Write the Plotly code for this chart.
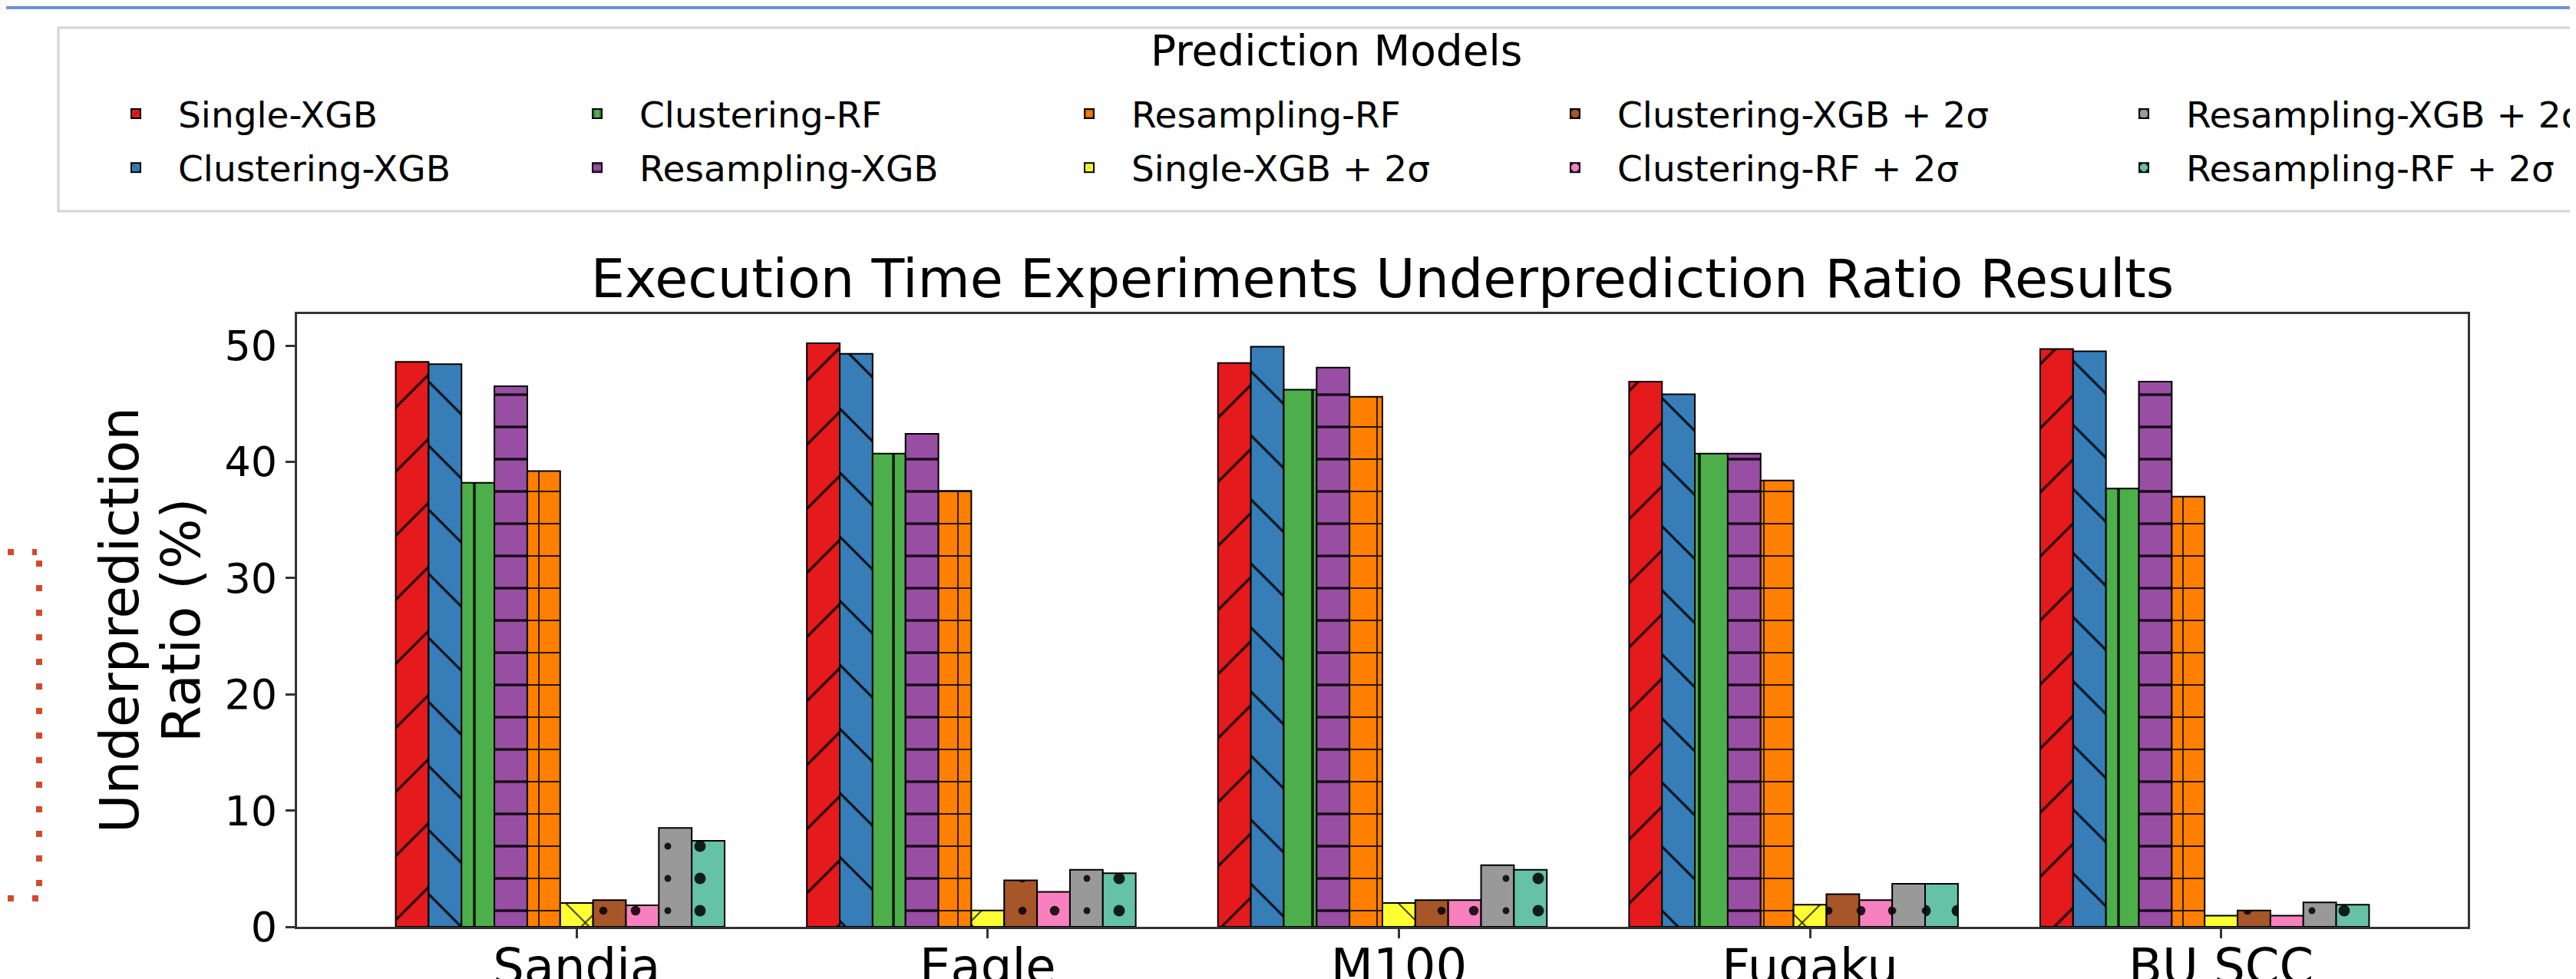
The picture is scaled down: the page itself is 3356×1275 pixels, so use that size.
import plotly.graph_objects as go

# ---------------- data ----------------
categories = ["Sandia", "Eagle", "M100", "Fugaku", "BU SCC"]
models = [
    "Single-XGB", "Clustering-XGB", "Clustering-RF", "Resampling-XGB", "Resampling-RF",
    "Single-XGB + 2σ", "Clustering-XGB + 2σ", "Clustering-RF + 2σ",
    "Resampling-XGB + 2σ", "Resampling-RF + 2σ",
]
single_xgb = [48.6, 50.2, 48.5, 46.9, 49.7]
clustering_xgb = [48.4, 49.3, 49.9, 45.8, 49.5]
clustering_rf = [38.2, 40.7, 46.2, 40.7, 37.7]
resampling_xgb = [46.5, 42.4, 48.1, 40.7, 46.9]
resampling_rf = [39.2, 37.5, 45.6, 38.4, 37.0]
single_xgb_2s = [2.05, 1.4, 2.05, 1.9, 0.95]
clustering_xgb_2s = [2.3, 4.0, 2.3, 2.8, 1.4]
clustering_rf_2s = [1.85, 3.0, 2.3, 2.3, 0.95]
resampling_xgb_2s = [8.5, 4.9, 5.3, 3.7, 2.1]
resampling_rf_2s = [7.4, 4.6, 4.9, 3.7, 1.9]
series = [single_xgb, clustering_xgb, clustering_rf, resampling_xgb, resampling_rf,
          single_xgb_2s, clustering_xgb_2s, clustering_rf_2s, resampling_xgb_2s, resampling_rf_2s]
y_ticks = [0, 10, 20, 30, 40, 50]
y_label_lines = ["Underprediction", "Ratio (%)"]

# ---------------- style ----------------
colors = ["#e41a1c", "#377eb8", "#4daf4a", "#984ea3", "#ff7f00",
          "#ffff33", "#a65628", "#f781bf", "#999999", "#66c2a5"]
patterns = [
    dict(shape="/", size=59, solidity=0.055),
    dict(shape="\\", size=59, solidity=0.055),
    dict(shape="|", size=42, solidity=0.085),
    dict(shape="-", size=42, solidity=0.085),
    dict(shape="+", size=42, solidity=0.085),
    dict(shape="x", size=59, solidity=0.06),
    dict(shape=".", size=42, solidity=0.05),
    dict(shape=".", size=42, solidity=0.07),
    dict(shape=".", size=42, solidity=0.035),
    dict(shape=".", size=42, solidity=0.1),
]

W, H = 3356, 1275
L, R, T, B = 379, 3207, 401, 1199
FONT = "DejaVu Sans"


def px_x(px):
    return (px - L) / (R - L)


def px_y(py):
    return (B - py) / (B - T)


bar_w = 0.08
n = len(models)
fig = go.Figure()
for i, (name, vals) in enumerate(zip(models, series)):
    col = i // 2
    legend_id = "legend" if col == 0 else f"legend{col + 1}"
    fig.add_trace(go.Bar(
        x=categories, y=vals, name=name,
        width=bar_w, offset=(i - n / 2 - 0.5) * bar_w,
        marker=dict(
            color=colors[i],
            line=dict(color="#000000", width=2),
            pattern=dict(fgcolor="#000000", fgopacity=0.85, **patterns[i]),
        ),
        legend=legend_id, legendgroup=name,
    ))

x_lo = -(n / 2 + 0.5) * bar_w
x_hi = len(categories) - 1 + (n / 2 - 0.5) * bar_w
pad = 0.05 * (x_hi - x_lo)
y_max = 1.05 * max(max(s) for s in series)

# legend column positions (text start, px)
col_text_x = [229, 830, 1471, 2104, 2845]
leg_kw = dict(
    orientation="v", bgcolor="rgba(0,0,0,0)", borderwidth=0,
    font=dict(family=FONT, size=47, color="#000000"),
    itemwidth=100, tracegroupgap=6,
    xref="container", yref="container", xanchor="left", yanchor="top",
)
legends = {}
for c, tx in enumerate(col_text_x):
    key = "legend" if c == 0 else f"legend{c + 1}"
    legends[key] = dict(x=(tx - 115) / W, y=1 - 103 / H, **leg_kw)

fig.update_layout(
    width=W, height=H, autosize=False,
    margin=dict(l=L, r=W - R, t=T, b=H - B, pad=0, autoexpand=False),
    paper_bgcolor="white", plot_bgcolor="white",
    barmode="overlay",
    font=dict(family=FONT, color="#000000"),
    title=dict(
        text="Execution Time Experiments Underprediction Ratio Results",
        font=dict(family=FONT, size=70, color="#000000"),
        xref="paper", x=0.5, xanchor="center",
        yref="container", y=1 - 379 / H, yanchor="bottom",
    ),
    xaxis=dict(
        range=[x_lo - pad, x_hi + pad], automargin=False,
        showline=True, mirror=True, linecolor="#333333", linewidth=3,
        ticks="outside", ticklen=12, tickwidth=2.5, tickcolor="#333333",
        tickfont=dict(family=FONT, size=64, color="#000000"),
        ticklabelstandoff=-18,
        showgrid=False, zeroline=False,
    ),
    yaxis=dict(
        range=[0, y_max], tickvals=y_ticks, automargin=False,
        showline=True, mirror=True, linecolor="#333333", linewidth=3,
        ticks="outside", ticklen=12, tickwidth=2.5, tickcolor="#333333",
        tickfont=dict(family=FONT, size=54, color="#000000"),
        showgrid=False, zeroline=False,
    ),
    showlegend=True,
    **legends,
)

# y-axis label (two centred lines, like matplotlib's multi-line ylabel)
for line, cx in zip(y_label_lines, [148, 228]):
    fig.add_annotation(
        text=line, xref="paper", yref="paper", x=px_x(cx), y=0.5,
        xanchor="center", yanchor="middle", textangle=-90, showarrow=False,
        font=dict(family=FONT, size=69, color="#000000"),
    )

# legend title
fig.add_annotation(
    text="Prediction Models", xref="paper", yref="paper",
    x=px_x(1733), y=px_y(58), xanchor="center", yanchor="middle",
    showarrow=False, font=dict(family=FONT, size=55, color="#000000"),
)

# legend frame (matplotlib-style box)
fig.add_shape(type="rect", xref="paper", yref="paper",
              x0=px_x(68), x1=px_x(3398), y0=px_y(267), y1=px_y(28),
              line=dict(color="#d4d4d4", width=3), fillcolor="rgba(0,0,0,0)", layer="below")

# slide decorations around the screenshot
fig.add_shape(type="rect", xref="paper", yref="paper",
              x0=px_x(0), x1=px_x(W), y0=px_y(4), y1=px_y(0),
              line=dict(width=0), fillcolor="#6f8fdf")
dot = dict(color="#d24a2a", width=8, dash="8px,24px")
fig.add_shape(type="line", xref="paper", yref="paper",
              x0=px_x(43), x1=px_x(43), y0=px_y(722), y1=px_y(1160), line=dot)
fig.add_shape(type="line", xref="paper", yref="paper",
              x0=px_x(2), x1=px_x(40), y0=px_y(711), y1=px_y(711), line=dot)
fig.add_shape(type="line", xref="paper", yref="paper",
              x0=px_x(2), x1=px_x(43), y0=px_y(1162), y1=px_y(1162), line=dot)

fig.write_html("out.html")
